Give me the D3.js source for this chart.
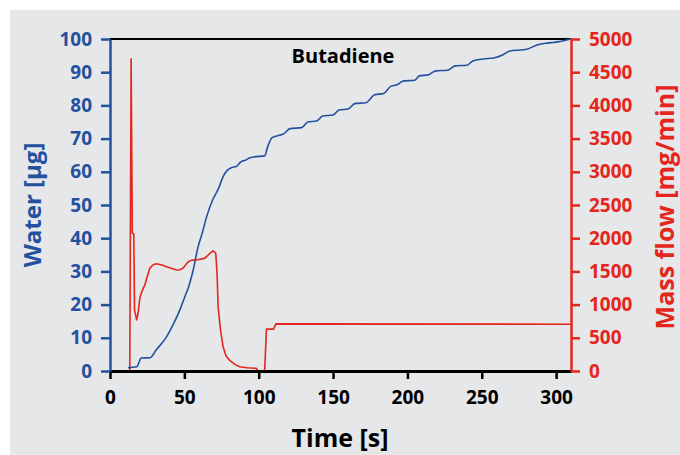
<!DOCTYPE html>
<html>
<head>
<meta charset="utf-8">
<script src="https://cdn.jsdelivr.net/npm/d3@7"></script>
<style>
  body { margin: 0; background: #fff; }
  text { font-family: "Open Sans", "DejaVu Sans", sans-serif; }
</style>
</head>
<body>
<div id="chart"></div>
<script>
// water uptake [µg] over time [s]
var waterTime = [12,18,21,27,31,38,43,47,50,53,56,59,62,65,69,73,76,79,82,85,88,91,94,97,104,106,109,114,117,121,129,133,139,143,150,154,160,165,172,178,184,189,193,197,205,208,214,219,227,232,240,244,251,258,264,269,276,281,287,293,297,302,305,310];
var waterVal  = [1,1.3,3.9,4,6.3,10.3,14.5,18.4,22,25.5,30.5,37,41.5,46.5,51.5,55,58.5,60.5,61.3,61.6,63,63.5,64.2,64.5,64.8,67.5,70.3,71,71.5,73,73.3,75,75.3,76.8,77.1,78.6,78.9,80.6,80.8,83.2,83.6,85.8,86.2,87.3,87.6,88.9,89.2,90.4,90.6,91.9,92.1,93.4,94,94.3,95.2,96.4,96.7,97,98.2,98.7,98.9,99.2,99.5,100];

// mass flow [mg/min] over time [s]
var flowTime = [13.3,14.2,15,16,16.5,17.9,18.9,20.1,21.5,23.5,25,26.8,29,31.3,35,38,44.8,47,49.2,52.6,55,58.2,61,63.8,67.1,69.3,71.1,72,72.7,74.3,76,78,80.5,84,87.2,92,98.4,99.5,104,105.2,110,111.5,310];
var flowVal  = [0,4700,2080,2060,920,770,870,1100,1200,1300,1420,1550,1600,1615,1595,1570,1520,1525,1550,1645,1670,1672,1685,1700,1770,1810,1775,1470,970,620,370,230,160,100,65,50,40,0,0,630,630,710,705];

var xTicks = [0,50,100,150,200,250,300];
var waterTicks = [0,10,20,30,40,50,60,70,80,90,100];
var flowTicks = [0,500,1000,1500,2000,2500,3000,3500,4000,4500,5000];

function drawChart() {
  var W = 680, H = 455;
  var mLeft = 110, mRight = 571, mTop = 39, mBottom = 371;
  var blue = "#24519f", red = "#e4261c";

  var svg = d3.select("#chart").append("svg").attr("width", W).attr("height", H);
  svg.append("rect").attr("x", 10).attr("y", 10).attr("width", W - 10).attr("height", H - 10).attr("fill", "#e6e7e9");

  var x = d3.scaleLinear().domain([0, 310]).range([mLeft, mRight]);
  var yW = d3.scaleLinear().domain([0, 100]).range([mBottom, mTop]);
  var yF = d3.scaleLinear().domain([0, 5000]).range([mBottom, mTop]);

  var waterData = waterTime.map(function(t, i) { return [t, waterVal[i]]; });
  var flowData = flowTime.map(function(t, i) { return [t, flowVal[i]]; });

  // top frame line
  svg.append("line").attr("x1", mLeft).attr("x2", mRight).attr("y1", mTop).attr("y2", mTop)
    .attr("stroke", "#000").attr("stroke-width", 2);

  svg.append("path").datum(flowData)
    .attr("d", d3.line().x(function(d) { return x(d[0]); }).y(function(d) { return yF(d[1]); }))
    .attr("fill", "none").attr("stroke", red).attr("stroke-width", 1.6).attr("stroke-linejoin", "round");

  svg.append("path").datum(waterData)
    .attr("d", d3.line().x(function(d) { return x(d[0]); }).y(function(d) { return yW(d[1]); }).curve(d3.curveMonotoneX))
    .attr("fill", "none").attr("stroke", blue).attr("stroke-width", 1.6);

  function styleAxis(g, color, width) {
    g.select(".domain").attr("stroke", color).attr("stroke-width", width);
    g.selectAll(".tick line").attr("stroke", color).attr("stroke-width", 2.5);
    g.selectAll(".tick text").attr("fill", color).style("font-size", "19px").style("font-weight", 700);
  }

  var gx = svg.append("g").attr("transform", "translate(0," + mBottom + ")")
    .call(d3.axisBottom(x).tickValues(xTicks).tickSizeInner(8).tickSizeOuter(0).tickPadding(12));
  styleAxis(gx, "#000", 3);

  var gl = svg.append("g").attr("transform", "translate(" + mLeft + ",0)")
    .call(d3.axisLeft(yW).tickValues(waterTicks).tickSizeInner(9).tickSizeOuter(0).tickPadding(9));
  styleAxis(gl, blue, 2.5);

  var gr = svg.append("g").attr("transform", "translate(" + mRight + ",0)")
    .call(d3.axisRight(yF).tickValues(flowTicks).tickFormat(d3.format("d")).tickSizeInner(9).tickSizeOuter(0).tickPadding(9));
  styleAxis(gr, red, 2.5);

  svg.append("text").attr("x", 343).attr("y", 63).attr("text-anchor", "middle")
    .style("font-size", "20px").style("font-weight", 700).attr("fill", "#000").text("Butadiene");

  svg.append("text").attr("x", 340).attr("y", 447).attr("text-anchor", "middle")
    .style("font-size", "25px").style("font-weight", 700).attr("fill", "#000").text("Time [s]");

  svg.append("text").attr("transform", "translate(41,205) rotate(-90)").attr("text-anchor", "middle")
    .style("font-size", "24px").style("font-weight", 700).attr("fill", blue).text("Water [µg]");

  svg.append("text").attr("transform", "translate(674,207) rotate(-90)").attr("text-anchor", "middle")
    .style("font-size", "25px").style("font-weight", 700).attr("fill", red).text("Mass flow [mg/min]");
}

drawChart();
</script>
</body>
</html>
